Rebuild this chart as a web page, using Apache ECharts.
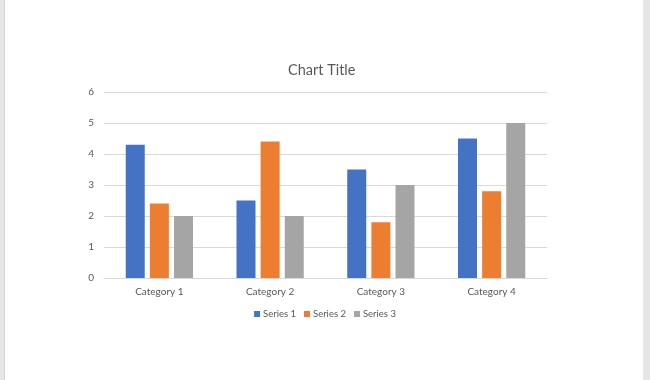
<!DOCTYPE html>
<html>
<head>
<meta charset="utf-8">
<script src="https://cdn.jsdelivr.net/npm/echarts@6/dist/echarts.min.js"></script>
<style>
  html, body { margin: 0; padding: 0; background: #e6e6e6; }
  #page { position: absolute; left: 4px; top: 0; width: 639px; height: 380px; background: #ffffff; border-left: 1px solid #d4d4d4; box-sizing: border-box; }
  #chart { position: absolute; left: 0; top: 0; width: 650px; height: 380px; }
</style>
</head>
<body>
<div id="page"></div>
<div id="chart"></div>
<script>
const categories = ["Category 1", "Category 2", "Category 3", "Category 4"];
const series1 = [4.3, 2.5, 3.5, 4.5];
const series2 = [2.4, 4.4, 1.8, 2.8];
const series3 = [2, 2, 3, 5];
const seriesNames = ["Series 1", "Series 2", "Series 3"];
const colors = ["#4472C4", "#ED7D31", "#A5A5A5"];

const chart = echarts.init(document.getElementById('chart'), null, { renderer: 'canvas' });
const font = 'Lato, "Open Sans", sans-serif';
const dataSets = [series1, series2, series3];
chart.setOption({
  backgroundColor: 'transparent',
  animation: false,
  title: {
    text: 'Chart Title',
    left: 283,
    top: 58,
    textStyle: { fontFamily: font, fontSize: 14.5, fontWeight: 'normal', color: '#595959' }
  },
  legend: {
    data: seriesNames,
    bottom: 56,
    left: 'center',
    itemWidth: 6,
    itemHeight: 6,
    itemGap: 8,
    icon: 'rect',
    textStyle: { fontFamily: font, fontSize: 9.5, color: '#595959', padding: [0, 0, 0, -2] }
  },
  grid: { left: 104, right: 103, top: 92, bottom: 102 },
  xAxis: {
    type: 'category',
    data: categories,
    axisLine: { lineStyle: { color: '#D9D9D9' } },
    axisTick: { show: false },
    axisLabel: { fontFamily: font, fontSize: 10, color: '#595959', margin: 9 }
  },
  yAxis: {
    type: 'value',
    min: 0, max: 6, interval: 1,
    axisLine: { show: false },
    axisTick: { show: false },
    splitLine: { lineStyle: { color: '#D9D9D9' } },
    axisLabel: { fontFamily: font, fontSize: 10, color: '#595959', margin: 10 }
  },
  series: seriesNames.map((n, i) => ({
    name: n,
    type: 'bar',
    data: dataSets[i],
    barWidth: 19,
    barGap: '27%',
    itemStyle: { color: colors[i] }
  }))
});
</script>
</body>
</html>
